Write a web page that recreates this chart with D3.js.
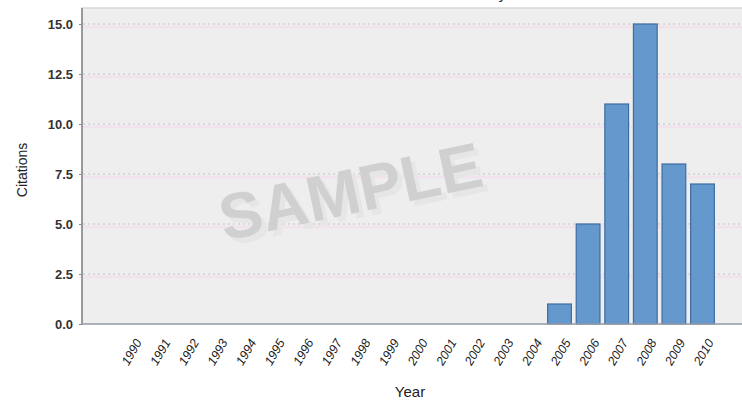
<!DOCTYPE html>
<html>
<head>
<meta charset="utf-8">
<script src="https://cdn.jsdelivr.net/npm/d3@7"></script>
<style>
  body { margin: 0; background: #fff; }
  svg { font-family: "Liberation Sans", Arial, sans-serif; }
</style>
</head>
<body>
<div id="chart"></div>
<script>
// data
var years = ["1990", "1991", "1992", "1993", "1994", "1995", "1996", "1997", "1998", "1999", "2000",
  "2001", "2002", "2003", "2004", "2005", "2006", "2007", "2008", "2009", "2010"];
var citations = [0, 0, 0, 0, 0, 0, 0, 0, 0, 0, 0, 0, 0, 0, 0, 1, 5, 11, 15, 8, 7];
var yTicks = [0, 2.5, 5, 7.5, 10, 12.5, 15];

var width = 742;
var height = 408;

// plot box (runs off the right edge like the original)
var plotLeft = 82;
var plotTop = 8;
var plotRight = 760;
var plotBottom = 324;

var svg = d3.select("#chart")
  .append("svg")
  .attr("width", width)
  .attr("height", height);

// title, mostly cut off at the top as in the original
svg.append("text")
  .attr("x", 440)
  .attr("y", -1)
  .attr("text-anchor", "middle")
  .style("font-size", "15px")
  .style("fill", "#222")
  .text("Citations in Each Year by Year");

// plot background
svg.append("rect")
  .attr("x", plotLeft)
  .attr("y", plotTop)
  .attr("width", plotRight - plotLeft)
  .attr("height", plotBottom - plotTop)
  .attr("fill", "#efeeef")
  .attr("stroke", "#d8d8d8")
  .attr("stroke-width", 1.5);

var yScale = d3.scaleLinear()
  .domain([0, 15])
  .range([plotBottom, 24]);

var xScale = d3.scaleBand()
  .domain(years)
  .range([116.2, 716.8])
  .paddingInner(0.17)
  .paddingOuter(0.085);

// grid lines: pink band with dotted gray line on top
var grid = svg.append("g").attr("class", "grid");
grid.selectAll("line.pink")
  .data(yTicks.slice(1))
  .enter()
  .append("line")
  .attr("class", "pink")
  .attr("x1", plotLeft + 1)
  .attr("x2", plotRight)
  .attr("y1", function(d) { return yScale(d) + 3; })
  .attr("y2", function(d) { return yScale(d) + 3; })
  .attr("stroke", "#f1e3ee")
  .attr("stroke-width", 3);
grid.selectAll("line.dot")
  .data(yTicks.slice(1))
  .enter()
  .append("line")
  .attr("class", "dot")
  .attr("x1", plotLeft + 1)
  .attr("x2", plotRight)
  .attr("y1", function(d) { return yScale(d); })
  .attr("y2", function(d) { return yScale(d); })
  .attr("stroke", "#c4c4c4")
  .attr("stroke-width", 1)
  .attr("stroke-dasharray", "2,3");

// watermark
svg.append("text")
  .attr("transform", "translate(360,218)rotate(-12)")
  .attr("text-anchor", "middle")
  .style("font-size", "64px")
  .style("font-weight", "bold")
  .style("fill", "#e6e6e6")
  .text("SAMPLE");
svg.append("text")
  .attr("transform", "translate(355,213)rotate(-12)")
  .attr("text-anchor", "middle")
  .style("font-size", "64px")
  .style("font-weight", "bold")
  .style("fill", "#d0d0d0")
  .text("SAMPLE");

// bars
svg.selectAll("rect.bar")
  .data(citations)
  .enter()
  .append("rect")
  .attr("class", "bar")
  .attr("x", function(d, i) { return xScale(years[i]); })
  .attr("y", function(d) { return yScale(d); })
  .attr("width", xScale.bandwidth())
  .attr("height", function(d) { return plotBottom - yScale(d); })
  .attr("fill", "#6598cd")
  .attr("stroke", "#3f6d9e")
  .attr("stroke-width", 1.2);

// y axis
var yAxis = d3.axisLeft(yScale)
  .tickValues(yTicks)
  .tickFormat(d3.format(".1f"))
  .tickSize(3)
  .tickPadding(6);
var yG = svg.append("g")
  .attr("transform", "translate(" + plotLeft + ",0)")
  .call(yAxis);
yG.select(".domain").remove();
yG.selectAll("line").attr("stroke", "#888");
yG.selectAll("text")
  .style("font-size", "13px")
  .style("font-weight", "bold")
  .style("fill", "#333");
svg.append("line")
  .attr("x1", plotLeft).attr("x2", plotLeft)
  .attr("y1", plotTop).attr("y2", plotBottom + 1)
  .attr("stroke", "#999")
  .attr("stroke-width", 2);

// x axis
var xAxis = d3.axisBottom(xScale).tickSize(0).tickPadding(10);
var xG = svg.append("g")
  .attr("transform", "translate(0," + plotBottom + ")")
  .call(xAxis);
xG.select(".domain").remove();
xG.selectAll("text")
  .attr("text-anchor", "end")
  .attr("dy", "0.35em")
  .attr("transform", "translate(8,16)rotate(-60)")
  .attr("y", 0)
  .attr("x", 0)
  .style("font-size", "12.5px")
  .style("font-style", "italic")
  .style("fill", "#222");
svg.append("line")
  .attr("x1", plotLeft).attr("x2", plotRight)
  .attr("y1", plotBottom).attr("y2", plotBottom)
  .attr("stroke", "#9aa0a8")
  .attr("stroke-width", 1.5);

// axis titles
svg.append("text")
  .attr("transform", "translate(27,170)rotate(-90)")
  .attr("text-anchor", "middle")
  .style("font-size", "14px")
  .style("fill", "#222")
  .text("Citations");
svg.append("text")
  .attr("x", 410)
  .attr("y", 397)
  .attr("text-anchor", "middle")
  .style("font-size", "15px")
  .style("fill", "#222")
  .text("Year");
</script>
</body>
</html>
